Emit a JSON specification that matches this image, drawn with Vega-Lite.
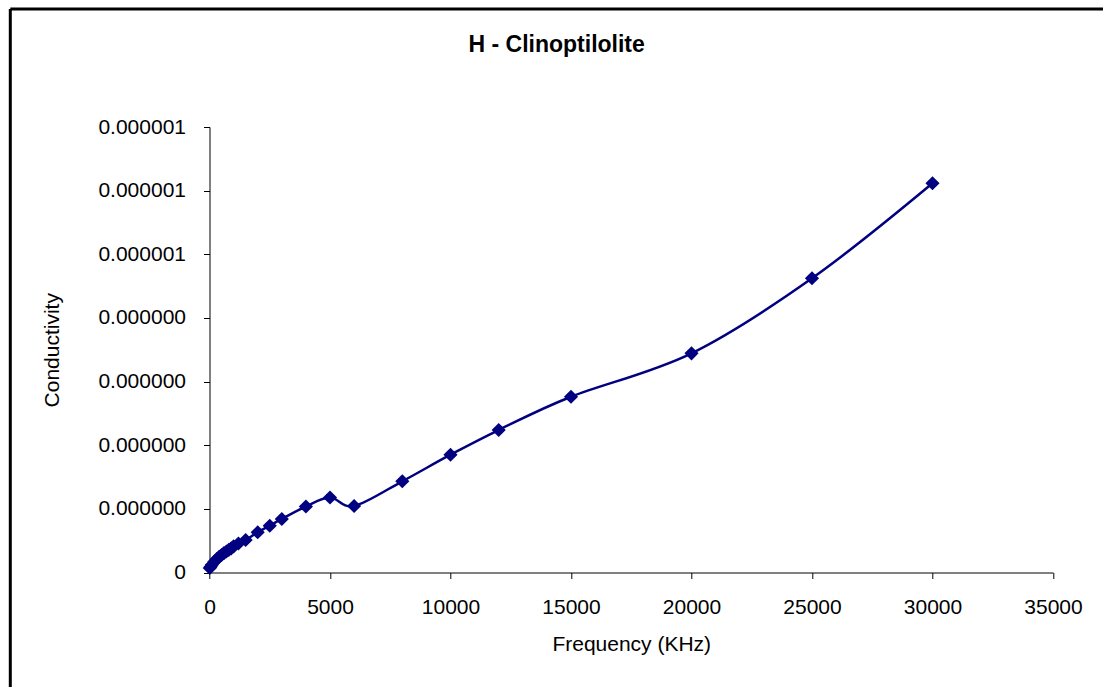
{
  "$schema": "https://vega.github.io/schema/vega-lite/v6.json",
  "width": 1092.7,
  "height": 678,
  "autosize": {"type": "none"},
  "padding": {"left": 10.3, "top": 9, "right": 0, "bottom": 0},
  "background": "white",
  "view": {
    "stroke": "black",
    "strokeWidth": 3,
    "strokeDash": [1092.7, 1770.7, 678, 0]
  },
  "title": {
    "text": "H - Clinoptilolite",
    "font": "Liberation Sans",
    "fontSize": 23,
    "fontWeight": "bold",
    "color": "black",
    "anchor": "middle",
    "frame": "group",
    "offset": -48
  },
  "data": {
    "values": [
      {"f": 10, "c": 0.07e-7},
      {"f": 50, "c": 0.09e-7},
      {"f": 100, "c": 0.12e-7},
      {"f": 200, "c": 0.17e-7},
      {"f": 300, "c": 0.21e-7},
      {"f": 400, "c": 0.245e-7},
      {"f": 500, "c": 0.275e-7},
      {"f": 600, "c": 0.305e-7},
      {"f": 700, "c": 0.33e-7},
      {"f": 800, "c": 0.355e-7},
      {"f": 900, "c": 0.38e-7},
      {"f": 1000, "c": 0.41e-7},
      {"f": 1200, "c": 0.455e-7},
      {"f": 1500, "c": 0.511e-7},
      {"f": 2000, "c": 0.632e-7},
      {"f": 2500, "c": 0.735e-7},
      {"f": 3000, "c": 0.841e-7},
      {"f": 4000, "c": 1.037e-7},
      {"f": 5000, "c": 1.178e-7},
      {"f": 6000, "c": 1.045e-7},
      {"f": 8000, "c": 1.433e-7},
      {"f": 10000, "c": 1.851e-7},
      {"f": 12000, "c": 2.239e-7},
      {"f": 15000, "c": 2.762e-7},
      {"f": 20000, "c": 3.444e-7},
      {"f": 25000, "c": 4.623e-7},
      {"f": 30000, "c": 6.116e-7}
    ]
  },
  "encoding": {
    "x": {
      "field": "f",
      "type": "quantitative",
      "title": "Frequency  (KHz)",
      "scale": {"domain": [0, 35000], "range": [199.2, 1042.7], "nice": false, "zero": false},
      "axis": {
        "values": [0, 5000, 10000, 15000, 20000, 25000, 30000, 35000],
        "format": "d",
        "offset": -114.5,
        "grid": false,
        "domainColor": "black",
        "domainWidth": 1,
        "tickColor": "black",
        "tickSize": 6,
        "labelFont": "Liberation Sans",
        "labelFontSize": 21,
        "labelColor": "black",
        "labelPadding": 18,
        "labelFlush": false,
        "titleFont": "Liberation Sans",
        "titleFontSize": 21,
        "titleFontWeight": "normal",
        "titleColor": "black",
        "titlePadding": 16
      }
    },
    "y": {
      "field": "c",
      "type": "quantitative",
      "title": "Conductivity",
      "scale": {"domain": [0, 7e-7], "range": [563.5, 118], "nice": false, "zero": false},
      "axis": {
        "values": [0, 1e-7, 2e-7, 3e-7, 4e-7, 5e-7, 6e-7, 7e-7],
        "labelExpr": "datum.value == 0 ? '0' : (datum.value < 4.5e-7 ? '0.000000' : '0.000001')",
        "offset": -199.2,
        "grid": false,
        "domainColor": "black",
        "domainWidth": 1,
        "tickColor": "black",
        "tickSize": 6,
        "labelFont": "Liberation Sans",
        "labelFontSize": 21,
        "labelColor": "black",
        "labelPadding": 18,
        "labelFlush": false,
        "titleFont": "Liberation Sans",
        "titleFontSize": 21,
        "titleFontWeight": "normal",
        "titleColor": "black",
        "titlePadding": 35
      }
    }
  },
  "layer": [
    {
      "mark": {"type": "line", "interpolate": "cardinal", "color": "#000080", "strokeWidth": 2.5}
    },
    {
      "mark": {"type": "point", "shape": "diamond", "filled": true, "color": "#000080", "opacity": 1, "size": 200}
    }
  ]
}
